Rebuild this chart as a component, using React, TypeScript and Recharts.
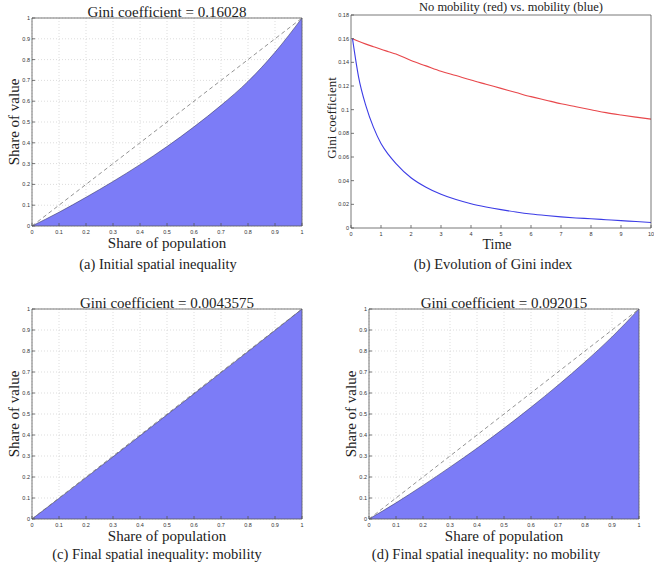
import React from 'react';
import { ComposedChart, LineChart, Area, Line, XAxis, YAxis, CartesianGrid } from 'recharts';

// Lorenz curves (share of population -> share of value)
const popShare = [0, 0.1, 0.2, 0.3, 0.4, 0.5, 0.6, 0.7, 0.8, 0.9, 1];
const lorenzInitial = [0, 0.066, 0.138, 0.214, 0.295, 0.382, 0.477, 0.58, 0.695, 0.835, 1];
const lorenzMobility = [0, 0.098, 0.197, 0.296, 0.396, 0.496, 0.596, 0.697, 0.797, 0.898, 1];
const lorenzNoMobility = [0, 0.077, 0.16, 0.247, 0.337, 0.432, 0.532, 0.637, 0.748, 0.867, 1];

// Gini over time
const timeSteps = [0.05, 0.25, 0.5, 0.75, 1, 1.25, 1.5, 2, 2.5, 3, 3.5, 4, 4.5, 5, 5.5, 6, 6.5, 7, 7.5, 8, 8.5, 9, 9.5, 10];
const giniNoMobility = [0.16, 0.1578, 0.1554, 0.1532, 0.151, 0.149, 0.147, 0.1415, 0.137, 0.1325, 0.1288, 0.125, 0.1215, 0.118, 0.1145, 0.111, 0.108, 0.105, 0.1025, 0.1, 0.0975, 0.0955, 0.0937, 0.092];
const giniMobility = [0.16, 0.128, 0.103, 0.085, 0.0714, 0.062, 0.0545, 0.0425, 0.0345, 0.0285, 0.024, 0.0205, 0.0178, 0.0155, 0.0135, 0.0118, 0.0105, 0.0094, 0.0085, 0.0078, 0.007, 0.0062, 0.0055, 0.0047];

const shareTicks = [0, 0.1, 0.2, 0.3, 0.4, 0.5, 0.6, 0.7, 0.8, 0.9, 1];
const timeTicks = [0, 1, 2, 3, 4, 5, 6, 7, 8, 9, 10];
const giniTicks = [0, 0.02, 0.04, 0.06, 0.08, 0.1, 0.12, 0.14, 0.16, 0.18];

const SERIF = '"Liberation Serif", "Times New Roman", "DejaVu Serif", serif';
const tickFont = { fontSize: 5.5, fill: '#333', fontFamily: '"Liberation Sans", sans-serif' };
const boxLine = { stroke: '#555', strokeWidth: 0.8 };

function Txt({ x, y, size, rotate, children }: any) {
  return (
    <div
      style={{
        position: 'absolute',
        left: x,
        top: y,
        transform: `translate(-50%, -50%)${rotate ? ' rotate(-90deg)' : ''}`,
        fontFamily: SERIF,
        fontSize: size,
        lineHeight: 1,
        whiteSpace: 'nowrap',
        color: '#222',
      }}
    >
      {children}
    </div>
  );
}

function LorenzPanel({ left, top, values, plot, title, caption, captionX, captionY }: any) {
  const w = 327;
  const h = 280;
  const rows = popShare.map((p, i) => ({ p, share: values[i], equal: p }));
  const cx = left + (plot.left + plot.right) / 2;
  return (
    <>
      <div style={{ position: 'absolute', left, top }}>
        <ComposedChart
          width={w}
          height={h}
          data={rows}
          margin={{ top: plot.top - 1, right: w - plot.right - 1, bottom: 0, left: 0 }}
        >
          <CartesianGrid xAxisId="b" yAxisId="l" stroke="#cfcfcf" strokeDasharray="1 2" strokeWidth={0.7} />
          <XAxis xAxisId="b" type="number" dataKey="p" domain={[0, 1]} ticks={shareTicks} interval={0}
            height={h - plot.bottom} tickSize={-3} tickMargin={7} axisLine={boxLine} tickLine={boxLine} tick={tickFont} />
          <XAxis xAxisId="t" orientation="top" type="number" dataKey="p" domain={[0, 1]} ticks={shareTicks} interval={0}
            height={1} tickSize={-3} axisLine={boxLine} tickLine={boxLine} tick={false} />
          <YAxis yAxisId="l" type="number" domain={[0, 1]} ticks={shareTicks} interval={0}
            width={plot.left} tickSize={-3} tickMargin={5} axisLine={boxLine} tickLine={boxLine} tick={tickFont} />
          <YAxis yAxisId="r" orientation="right" type="number" domain={[0, 1]} ticks={shareTicks} interval={0}
            width={1} tickSize={-3} axisLine={boxLine} tickLine={boxLine} tick={false} />
          <Area xAxisId="b" yAxisId="l" type="monotone" dataKey="share" fill="#7c7cf7" fillOpacity={1}
            stroke="#3a3a6a" strokeWidth={0.6} isAnimationActive={false} />
          <Line xAxisId="b" yAxisId="l" type="linear" dataKey="equal" stroke="#777" strokeWidth={0.8}
            strokeDasharray="4 3" dot={false} isAnimationActive={false} />
        </ComposedChart>
      </div>
      <Txt x={cx} y={top + plot.top - 6} size={15}>{title}</Txt>
      <Txt x={left + plot.left - 18} y={top + (plot.top + plot.bottom) / 2} size={15} rotate>Share of value</Txt>
      <Txt x={cx} y={top + plot.bottom + 17} size={15}>Share of population</Txt>
      <Txt x={captionX} y={captionY} size={14.5}>{caption}</Txt>
    </>
  );
}

function GiniPanel() {
  const w = 327;
  const h = 280;
  const left = 327;
  const plot = { left: 24, right: 324, top: 15, bottom: 228 };
  const rows = timeSteps.map((t, i) => ({ t, red: giniNoMobility[i], blue: giniMobility[i] }));
  return (
    <>
      <div style={{ position: 'absolute', left, top: 0 }}>
        <LineChart
          width={w}
          height={h}
          data={rows}
          margin={{ top: plot.top - 1, right: w - plot.right - 1, bottom: 0, left: 0 }}
        >
          <XAxis xAxisId="b" type="number" dataKey="t" domain={[0, 10]} ticks={timeTicks} interval={0}
            height={h - plot.bottom} tickSize={-3} tickMargin={7} axisLine={boxLine} tickLine={boxLine} tick={tickFont} />
          <XAxis xAxisId="t" orientation="top" type="number" dataKey="t" domain={[0, 10]} ticks={timeTicks} interval={0}
            height={1} tickSize={-3} axisLine={boxLine} tickLine={boxLine} tick={false} />
          <YAxis yAxisId="l" type="number" domain={[0, 0.18]} ticks={giniTicks} interval={0}
            width={plot.left} tickSize={-3} tickMargin={5} axisLine={boxLine} tickLine={boxLine} tick={tickFont} />
          <YAxis yAxisId="r" orientation="right" type="number" domain={[0, 0.18]} ticks={giniTicks} interval={0}
            width={1} tickSize={-3} axisLine={boxLine} tickLine={boxLine} tick={false} />
          <Line xAxisId="b" yAxisId="l" type="monotone" dataKey="red" stroke="#e8474b" strokeWidth={1.1}
            dot={false} isAnimationActive={false} />
          <Line xAxisId="b" yAxisId="l" type="monotone" dataKey="blue" stroke="#3c3ce6" strokeWidth={1.1}
            dot={false} isAnimationActive={false} />
        </LineChart>
      </div>
      <Txt x={511} y={7} size={12.5}>No mobility (red) vs. mobility (blue)</Txt>
      <Txt x={331} y={118} size={13} rotate>Gini coefficient</Txt>
      <Txt x={497} y={245} size={14}>Time</Txt>
      <Txt x={493} y={264} size={14.5}>(b) Evolution of Gini index</Txt>
    </>
  );
}

export default function App() {
  return (
    <div style={{ position: 'absolute', left: 0, top: 0, width: 654, height: 563, overflow: 'hidden', background: '#fff' }}>
      <LorenzPanel left={0} top={0} values={lorenzInitial}
        plot={{ left: 32, right: 302, top: 18, bottom: 226 }}
        title="Gini coefficient = 0.16028" caption="(a) Initial spatial inequality" captionX={158} captionY={264} />
      <GiniPanel />
      <LorenzPanel left={0} top={280} values={lorenzMobility}
        plot={{ left: 32, right: 302, top: 29, bottom: 239 }}
        title="Gini coefficient = 0.0043575" caption="(c) Final spatial inequality: mobility" captionX={157} captionY={554} />
      <LorenzPanel left={327} top={280} values={lorenzNoMobility}
        plot={{ left: 42, right: 312, top: 29, bottom: 239 }}
        title="Gini coefficient = 0.092015" caption="(d) Final spatial inequality: no mobility" captionX={486} captionY={554} />
    </div>
  );
}
